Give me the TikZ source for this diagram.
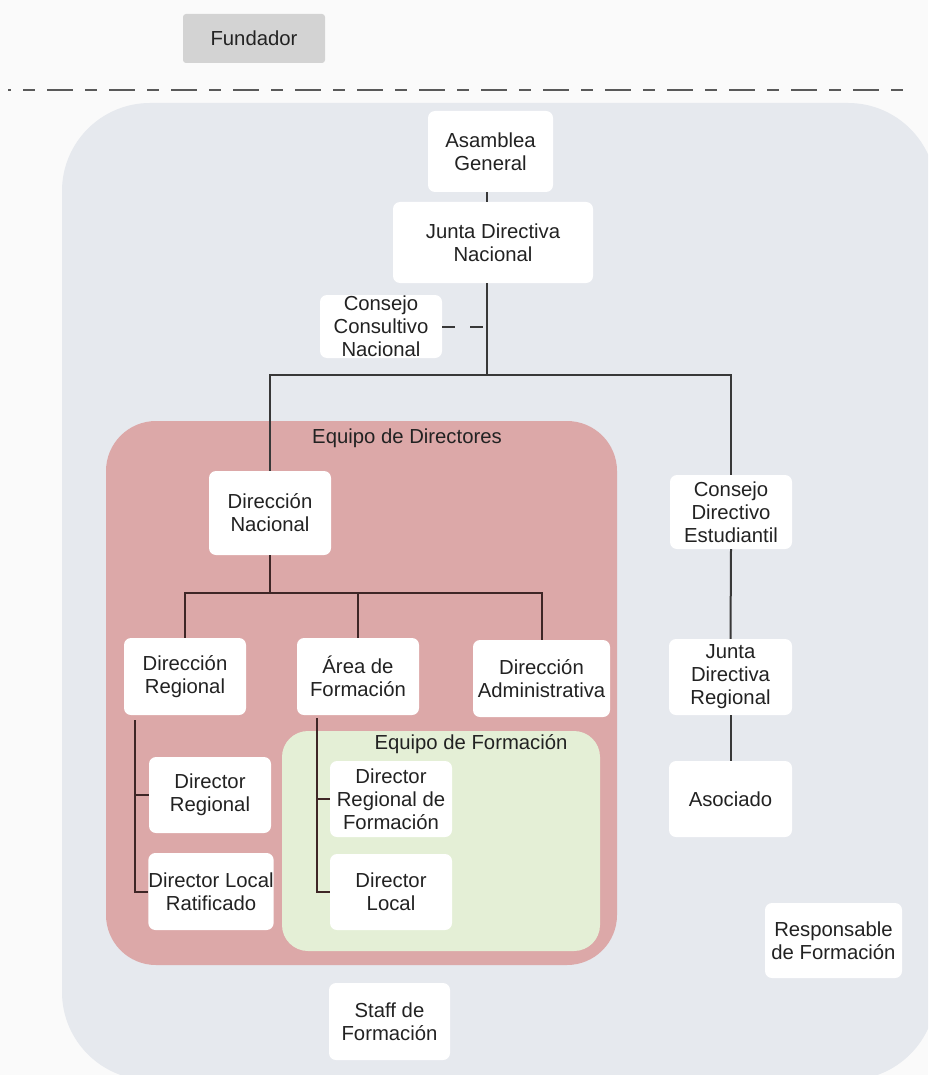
\documentclass[tikz,border=0pt]{standalone}
\usepackage{fontspec}
\setmainfont{Liberation Sans}
\usepackage{xcolor}
\definecolor{fondo}{HTML}{FAFAFA}
\definecolor{gris}{HTML}{E6E9EE}
\definecolor{rosa}{HTML}{DCA8A8}
\definecolor{verde}{HTML}{E4EFD6}
\definecolor{tapa}{HTML}{D3D3D3}
\definecolor{trazo}{HTML}{383838}
\definecolor{trazorosa}{HTML}{3E2626}
\definecolor{texto}{HTML}{222222}

\begin{document}
\begin{tikzpicture}[x=1pt,y=-1pt,
    caja/.style={fill=white, rounded corners=7pt, align=center, inner sep=0pt,
      text=texto, font=\fontsize{20.3}{23}\selectfont},
    rotulo/.style={text=texto, inner sep=0pt, font=\fontsize{20.3}{23}\selectfont},
    linea/.style={draw=trazo, line width=2pt},
    linearosa/.style={draw=trazorosa, line width=2pt}]
        \useasboundingbox (0,0) rectangle (928,1075);
        \clip (0,0) rectangle (928,1075);
        \fill[fondo] (0,0) rectangle (928,1075);

        \fill[gris, rounded corners=88pt] (62,103) rectangle (936,1080);
        \fill[rosa, rounded corners=50pt] (106,421) rectangle (617,965);
        \fill[verde, rounded corners=26pt] (282,731) rectangle (600,951);

        \node[caja, fill=tapa, rounded corners=3pt, minimum width=142pt, minimum height=49pt] (fundador) at (254,38.5) {Fundador};
        \draw[draw=black!65, line width=2.2pt, dash pattern=on 12pt off 12pt on 26pt off 12pt, dash phase=47pt] (8,90) -- (905,90);

        \node[rotulo] (eqdir) at (407,438) {Equipo de Directores};
        \node[rotulo] (eqform) at (471,744) {Equipo de Formación};

        \node[caja, minimum width=125pt, minimum height=81pt] (asamblea) at (490.5,151.5) {Asamblea\\General};
        \node[caja, minimum width=200pt, minimum height=81pt] (juntanac) at (493,242.5) {Junta Directiva\\Nacional};
        \node[caja, minimum width=122pt, minimum height=63pt] (consultivo) at (381,326.5) {Consejo\\Consultivo\\Nacional};

        \node[caja, minimum width=122pt, minimum height=84pt] (dirnac) at (270,513) {Dirección\\Nacional};
        \node[caja, minimum width=122pt, minimum height=77pt] (dirreg) at (185,676.5) {Dirección\\Regional};
        \node[caja, minimum width=122pt, minimum height=77pt] (areaform) at (358,676.5) {Área de\\Formación};
        \node[caja, minimum width=137pt, minimum height=77pt] (diradm) at (541.5,678.5) {Dirección\\Administrativa};
        \node[caja, minimum width=122pt, minimum height=76pt] (dirregional) at (210,795) {Director\\Regional};
        \node[caja, minimum width=122pt, minimum height=77pt] (dirlocalrat) at (211,891.5) {Director Local\\Ratificado};
        \node[caja, minimum width=122pt, minimum height=76pt] (dirregform) at (391,799) {Director\\Regional de\\Formación};
        \node[caja, minimum width=122pt, minimum height=76pt] (dirlocal) at (391,892) {Director\\Local};

        \node[caja, minimum width=122pt, minimum height=74pt] (consejoest) at (731,512) {Consejo\\Directivo\\Estudiantil};
        \node[caja, minimum width=123pt, minimum height=76pt] (juntareg) at (730.5,677) {Junta\\Directiva\\Regional};
        \node[caja, minimum width=123pt, minimum height=76pt] (asociado) at (730.5,799) {Asociado};
        \node[caja, minimum width=137pt, minimum height=75pt] (responsable) at (833.5,940.5) {Responsable\\de Formación};
        \node[caja, minimum width=121pt, minimum height=77pt] (staff) at (389.5,1021.5) {Staff de\\Formación};

        \coordinate (eje) at (487,375);
        \coordinate (ramal) at (270,593);

        \draw[linea] (asamblea.south -| eje) -- (juntanac.north -| eje);
        \draw[linea] (juntanac.south -| eje) -- (eje);
        \draw[linea, dash pattern=on 13pt off 15pt] (consultivo.east) -- (consultivo.east -| eje);
        \draw[linea] (dirnac.north) |- (eje) -| (consejoest.north);

        \draw[linearosa] (dirnac.south) -- (ramal);
        \draw[linearosa] (dirreg.north) |- (ramal) -| (diradm.north);
        \draw[linearosa] (ramal -| areaform) -- (areaform.north);
        \draw[linearosa] ([xshift=-50pt,yshift=-5pt]dirreg.south) coordinate (tope) |- (dirlocalrat.west);
        \draw[linearosa] (dirregional.west) -- (dirregional.west -| tope);
        \draw[linearosa] ([xshift=-41pt,yshift=-3pt]areaform.south) coordinate (tope2) |- (dirlocal.west);
        \draw[linearosa] (dirregform.west) -- (dirregform.west -| tope2);

        \draw[linea] (consejoest.south) -- (juntareg.north);
        \draw[linea] (juntareg.south) -- (asociado.north);
\end{tikzpicture}
\end{document}
